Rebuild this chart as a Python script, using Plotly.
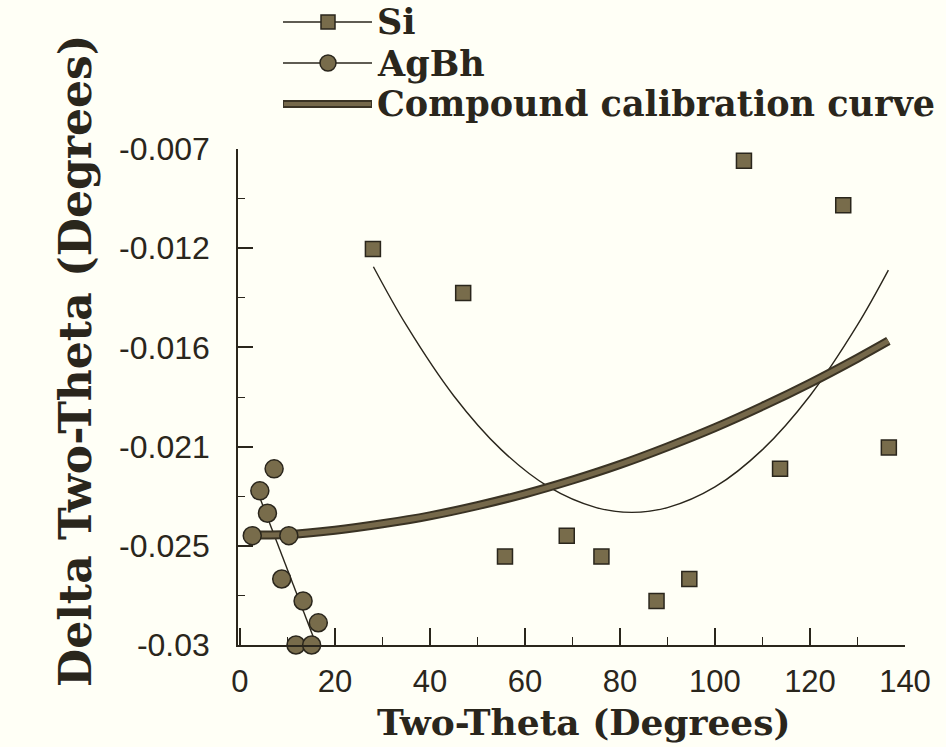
import plotly.graph_objects as go

# Si reflections: peak position vs. measured offset
si_x = [28.0, 47.0, 55.8, 68.8, 76.1, 87.7, 94.6, 106.1, 113.7, 127.0, 136.6]
si_y = [-0.01164, -0.01368, -0.02590, -0.02493, -0.02590, -0.02796, -0.02694,
        -0.00754, -0.02183, -0.00961, -0.02084]

# AgBh (silver behenate) low-angle reflections
agbh_x = [2.6, 4.2, 5.8, 7.2, 8.8, 10.3, 11.8, 13.3, 15.1, 16.5]
agbh_y = [-0.02493, -0.02285, -0.02389, -0.02183, -0.02694, -0.02493, -0.03000,
          -0.02796, -0.03000, -0.02897]

# fitted trend through the Si points
si_fit_x = [28.1, 35, 45, 55, 65, 75, 82.5, 90, 100, 110, 120, 130, 136.5]
si_fit_y = [-0.01246, -0.01516, -0.01844, -0.02094, -0.02267, -0.02363, -0.02385,
            -0.02363, -0.02267, -0.02094, -0.01844, -0.01516, -0.01262]

# straight-line fit through the AgBh points
agbh_fit_x = [3.9, 16.1]
agbh_fit_y = [-0.0230, -0.0300]

# compound calibration curve
comp_x = [2.6, 10, 20, 30, 40, 50, 60, 70, 80, 90, 100, 110, 120, 130, 136.5]
comp_y = [-0.02490, -0.02488, -0.02468, -0.02438, -0.02401, -0.02354, -0.02299,
          -0.02235, -0.02163, -0.02081, -0.01992, -0.01893, -0.01786, -0.01670,
          -0.01590]

# axis ticks
y_tickvals = [-0.0300, -0.0254, -0.0208, -0.0162, -0.0116, -0.0070]
y_ticktext = ["-0.03", "-0.025", "-0.021", "-0.016", "-0.012", "-0.007"]
y_minorvals = [-0.0277, -0.0231, -0.0185, -0.0139, -0.0093]
x_tickvals = [0, 20, 40, 60, 80, 100, 120, 140]
x_minorvals = [10, 30, 50, 70, 90, 110, 130]

legend_labels = ["Si", "AgBh", "Compound calibration curve"]

INK = "#2a261c"
FILL = "#786c4b"
CURVE = "#75684a"
BG = "#fffff6"
SERIF = "DejaVu Serif, serif"
SANS = "Liberation Sans, Arial, sans-serif"

W, H = 946, 747
L, R, T, B = 238, 41, 149, 102
PW, PH = W - L - R, H - T - B


def px(x):
    return (x - L) / PW


def py(y):
    return (H - B - y) / PH


fig = go.Figure()

# fit lines (thin)
fig.add_trace(go.Scatter(x=si_fit_x, y=si_fit_y, mode="lines", line_shape="spline",
                         line=dict(color=INK, width=1.4), showlegend=False,
                         hoverinfo="skip"))
fig.add_trace(go.Scatter(x=agbh_fit_x, y=agbh_fit_y, mode="lines",
                         line=dict(color=INK, width=1.4), showlegend=False,
                         hoverinfo="skip"))

# compound curve: dark rim with lighter core
fig.add_trace(go.Scatter(x=comp_x, y=comp_y, mode="lines", line_shape="spline",
                         line=dict(color="#3a3324", width=9), showlegend=False,
                         hoverinfo="skip"))
fig.add_trace(go.Scatter(x=comp_x, y=comp_y, mode="lines", line_shape="spline",
                         line=dict(color=CURVE, width=5), name=legend_labels[2],
                         showlegend=False))

fig.add_trace(go.Scatter(x=agbh_x, y=agbh_y, mode="markers", name=legend_labels[1],
                         marker=dict(symbol="circle", size=18, color=FILL,
                                     line=dict(color=INK, width=1.5)),
                         cliponaxis=False, showlegend=False))
fig.add_trace(go.Scatter(x=si_x, y=si_y, mode="markers", name=legend_labels[0],
                         marker=dict(symbol="square", size=15, color=FILL,
                                     line=dict(color=INK, width=1.5)),
                         cliponaxis=False, showlegend=False))

# hand-built legend
shapes = []
annotations = []
rows = [22, 63, 104]
lx0, lx1, lxm = 283, 372, 328
for i, (lab, ry) in enumerate(zip(legend_labels, rows)):
    if i < 2:
        shapes.append(dict(type="line", xref="paper", yref="paper",
                           x0=px(lx0), x1=px(lx1), y0=py(ry), y1=py(ry),
                           line=dict(color=INK, width=1.4)))
    else:
        shapes.append(dict(type="line", xref="paper", yref="paper",
                           x0=px(lx0), x1=px(lx1), y0=py(ry), y1=py(ry),
                           line=dict(color="#3a3324", width=8)))
        shapes.append(dict(type="line", xref="paper", yref="paper",
                           x0=px(lx0 + 1), x1=px(lx1 - 1), y0=py(ry), y1=py(ry),
                           line=dict(color=CURVE, width=4)))
    annotations.append(dict(text="<b>%s</b>" % lab, xref="paper", yref="paper",
                            x=px(376), y=py(ry), xanchor="left", yanchor="middle",
                            showarrow=False, borderpad=0,
                            font=dict(family=SERIF, size=35, color=INK)))
# legend markers
shapes.append(dict(type="rect", xref="paper", yref="paper",
                   x0=px(lxm - 7), x1=px(lxm + 7), y0=py(rows[0] - 7), y1=py(rows[0] + 7),
                   fillcolor=FILL, line=dict(color=INK, width=1.5)))
shapes.append(dict(type="circle", xref="paper", yref="paper",
                   x0=px(lxm - 8), x1=px(lxm + 8), y0=py(rows[1] - 8), y1=py(rows[1] + 8),
                   fillcolor=FILL, line=dict(color=INK, width=1.5)))

# axis titles
annotations.append(dict(text="<b>Two-Theta (Degrees)</b>", xref="paper", yref="paper",
                        x=px(584), y=py(722), xanchor="center", yanchor="middle",
                        showarrow=False, font=dict(family=SERIF, size=36, color=INK)))
annotations.append(dict(text="<b>Delta Two-Theta (Degrees)</b>", xref="paper",
                        yref="paper", x=px(75), y=py(361), xanchor="center",
                        yanchor="middle", textangle=-90, showarrow=False,
                        font=dict(family=SERIF, size=44, color=INK)))

fig.update_layout(
    width=W, height=H,
    margin=dict(l=L, r=R, t=T, b=B),
    paper_bgcolor=BG, plot_bgcolor=BG,
    showlegend=False,
    shapes=shapes, annotations=annotations,
)
fig.update_xaxes(range=[-0.4, 140], showgrid=False, zeroline=False,
                 showline=True, linecolor=INK, linewidth=1.5,
                 ticks="inside", ticklen=17, tickwidth=1.5, tickcolor=INK,
                 tickvals=x_tickvals, ticklabelstandoff=8,
                 tickfont=dict(family=SANS, size=31, color=INK),
                 minor=dict(tickvals=x_minorvals, ticks="inside", ticklen=8,
                            tickwidth=1.2, tickcolor=INK))
fig.update_yaxes(range=[-0.0300, -0.0070], showgrid=False, zeroline=False,
                 showline=True, linecolor=INK, linewidth=1.5,
                 ticks="inside", ticklen=15, tickwidth=1.5, tickcolor=INK,
                 tickvals=y_tickvals, ticktext=y_ticktext, ticklabelstandoff=20,
                 tickfont=dict(family=SANS, size=32, color=INK),
                 minor=dict(tickvals=y_minorvals, ticks="inside", ticklen=7,
                            tickwidth=1.2, tickcolor=INK))

fig.write_html("out.html")
